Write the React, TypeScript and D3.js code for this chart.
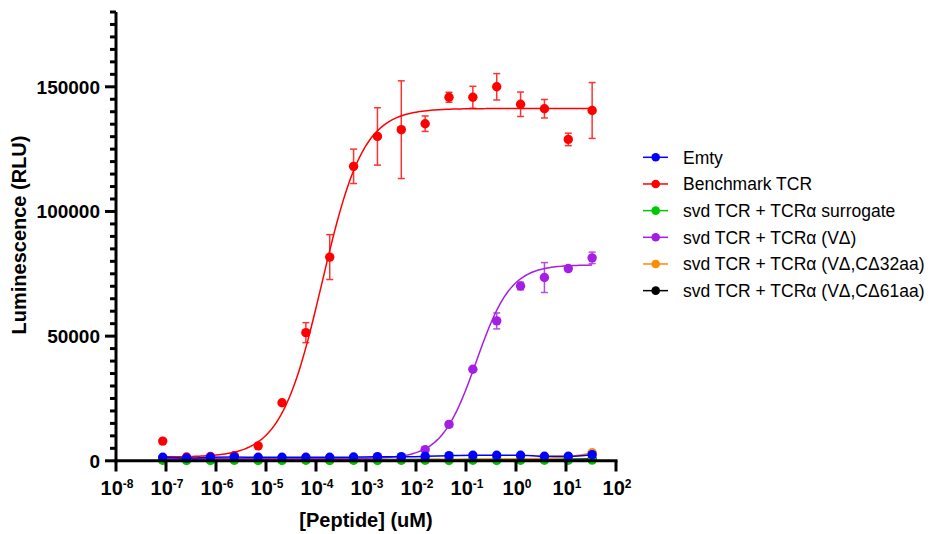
import React from 'react';
import * as d3 from 'd3';

// Peptide concentrations (uM), 3-fold dilution series
const concentrations = [
  8.6039e-8, 2.5812e-7, 7.7435e-7, 2.3231e-6, 6.9692e-6, 2.0908e-5, 6.2723e-5,
  1.8817e-4, 5.645e-4, 1.6935e-3, 5.0805e-3, 1.5242e-2, 4.5725e-2, 0.13717,
  0.41152, 1.2346, 3.7037, 11.111, 33.333,
];

const seriesNames = [
  'Emty',
  'Benchmark TCR',
  'svd TCR + TCRα surrogate',
  'svd TCR + TCRα (VΔ)',
  'svd TCR + TCRα (VΔ,CΔ32aa)',
  'svd TCR + TCRα (VΔ,CΔ61aa)',
];
const seriesColors = ['#0000ff', '#ff0000', '#00c800', '#a41ee6', '#ff8c00', '#000000'];

const emty = [1400, 1100, 1400, 1500, 1400, 1400, 1400, 1400, 1500, 1650, 1650, 1800, 2050, 2200, 2200, 2200, 1800, 1800, 2450];
const benchmark = [7900, 1500, 1700, 2000, 6000, 23300, 51400, 81700, 118100, 130100, 132800, 135200, 145800, 145800, 150000, 143000, 141200, 128900, 140500];
const benchmarkErr = [0, 0, 0, 0, 0, 0, 4000, 9000, 6900, 11500, 19600, 3100, 2000, 4400, 5300, 4900, 3700, 2500, 11200];
const surrogate = [200, 100, 150, 200, 150, 150, 200, 150, 200, 150, 200, 200, 150, 200, 150, 200, 200, 250, 300];
const vDelta = [1000, 900, 1000, 1000, 1000, 1000, 900, 1000, 1000, 1100, 1200, 4500, 14600, 36700, 56100, 70100, 73500, 77100, 81400];
const vDeltaErr = [0, 0, 0, 0, 0, 0, 0, 0, 0, 0, 0, 0, 1000, 0, 3200, 1500, 6000, 800, 2300];
const c32 = [400, 300, 400, 400, 300, 400, 400, 300, 400, 400, 400, 500, 500, 600, 700, 800, 1000, 1600, 3200];
const c61 = [500, 500, 450, 500, 500, 450, 500, 500, 450, 500, 500, 500, 450, 500, 500, 500, 550, 600, 700];

// 4PL fit parameters: [bottom, top, logEC50, hill]
const benchmarkFit = [1500, 141300, -3.88, 1.05];
const vDeltaFit = [900, 78600, -0.796, 1.25];

const yMajorTicks = [0, 50000, 100000, 150000];
const xTickExponents = [-8, -7, -6, -5, -4, -3, -2, -1, 0, 1, 2];

const FONT = '"Liberation Sans", Arial, Helvetica, sans-serif';

const x = d3.scaleLog().domain([1e-8, 1e2]).range([116, 616]);
const y = d3.scaleLinear().domain([0, 180000]).range([460.8, 12]);

function fourPL(p: number[], c: number) {
  const [b, t, l, h] = p;
  return b + (t - b) / (1 + Math.pow(10, (l - Math.log10(c)) * h));
}

type Series = {
  name: string;
  color: string;
  values: number[];
  errors?: number[];
  fit?: number[];
};

const series: Series[] = [
  { name: seriesNames[0], color: seriesColors[0], values: emty },
  { name: seriesNames[1], color: seriesColors[1], values: benchmark, errors: benchmarkErr, fit: benchmarkFit },
  { name: seriesNames[2], color: seriesColors[2], values: surrogate },
  { name: seriesNames[3], color: seriesColors[3], values: vDelta, errors: vDeltaErr, fit: vDeltaFit },
  { name: seriesNames[4], color: seriesColors[4], values: c32 },
  { name: seriesNames[5], color: seriesColors[5], values: c61 },
];

const lineGen = d3
  .line<[number, number]>()
  .x((d) => x(d[0]))
  .y((d) => y(d[1]));

function seriesPath(s: Series) {
  if (s.fit) {
    const lo = Math.log10(concentrations[0]);
    const hi = Math.log10(concentrations[concentrations.length - 1]);
    const pts: [number, number][] = d3.range(0, 201).map((i) => {
      const c = Math.pow(10, lo + ((hi - lo) * i) / 200);
      return [c, fourPL(s.fit as number[], c)];
    });
    return lineGen.curve(d3.curveLinear)(pts) || '';
  }
  const pts: [number, number][] = concentrations.map((c, i) => [c, s.values[i]]);
  return lineGen.curve(d3.curveMonotoneX)(pts) || '';
}

export default function App() {
  const drawOrder = [5, 4, 3, 2, 1, 0];
  const yMinor = d3.range(0, 180001, 5000).filter((v) => v % 50000 !== 0);
  return (
    <div style={{ position: 'absolute', left: 0, top: 0 }}>
      <svg width={933} height={534} style={{ display: 'block', background: '#fff' }} fontFamily={FONT}>
        {/* Series */}
        {drawOrder.map((si) => {
          const s = series[si];
          return (
            <g key={s.name}>
              <path d={seriesPath(s)} fill="none" stroke={s.color} strokeWidth={1.5} />
              {s.errors &&
                concentrations.map((c, i) => {
                  const e = (s.errors as number[])[i];
                  if (!e) return null;
                  const cx = x(c);
                  const y1 = y(s.values[i] + e);
                  const y2 = y(s.values[i] - e);
                  return (
                    <g key={i} stroke={s.color} strokeWidth={1.5} opacity={0.8}>
                      <line x1={cx} x2={cx} y1={y1} y2={y2} />
                      <line x1={cx - 3.5} x2={cx + 3.5} y1={y1} y2={y1} />
                      <line x1={cx - 3.5} x2={cx + 3.5} y1={y2} y2={y2} />
                    </g>
                  );
                })}
              {concentrations.map((c, i) => (
                <circle key={i} cx={x(c)} cy={y(s.values[i])} r={4.7} fill={s.color} />
              ))}
            </g>
          );
        })}

        {/* Y axis */}
        <line x1={116} x2={116} y1={12} y2={462.3} stroke="#000" strokeWidth={3} />
        {yMinor.map((v) => (
          <line key={v} x1={110} x2={116} y1={y(v)} y2={y(v)} stroke="#000" strokeWidth={3} />
        ))}
        {yMajorTicks.map((v) => (
          <g key={v}>
            <line x1={105} x2={116} y1={y(v)} y2={y(v)} stroke="#000" strokeWidth={3} />
            <text x={100} y={y(v) + 7} textAnchor="end" fontSize={19} fontWeight="bold" fill="#000">
              {v}
            </text>
          </g>
        ))}
        <text
          transform="translate(26,235) rotate(-90)"
          textAnchor="middle"
          fontSize={20}
          fontWeight="bold"
          fill="#000"
        >
          Luminescence (RLU)
        </text>

        {/* X axis */}
        <line x1={114.5} x2={617.5} y1={460.8} y2={460.8} stroke="#000" strokeWidth={3} />
        {xTickExponents.map((e) => {
          const px = x(Math.pow(10, e));
          return (
            <g key={e}>
              <line x1={px} x2={px} y1={460.8} y2={471.5} stroke="#000" strokeWidth={3} />
              <text x={px + 1} y={495} textAnchor="middle" fontWeight="bold" fill="#000" fontSize={20}>
                <tspan>10</tspan>
                <tspan dy={-7} fontSize={12}>{String(e)}</tspan>
              </text>
            </g>
          );
        })}
        <text x={366} y={527} textAnchor="middle" fontSize={20} fontWeight="bold" fill="#000">
          [Peptide] (uM)
        </text>

        {/* Legend */}
        {series.map((s, i) => {
          const ly = 157.3 + i * 26.67;
          return (
            <g key={s.name}>
              <line x1={643} x2={668} y1={ly} y2={ly} stroke={s.color} strokeWidth={1.5} />
              <circle cx={655.7} cy={ly} r={4.3} fill={s.color} />
              <text x={683} y={ly + 6.2} fontSize={17.5} fill="#000">
                {s.name}
              </text>
            </g>
          );
        })}
      </svg>
    </div>
  );
}
